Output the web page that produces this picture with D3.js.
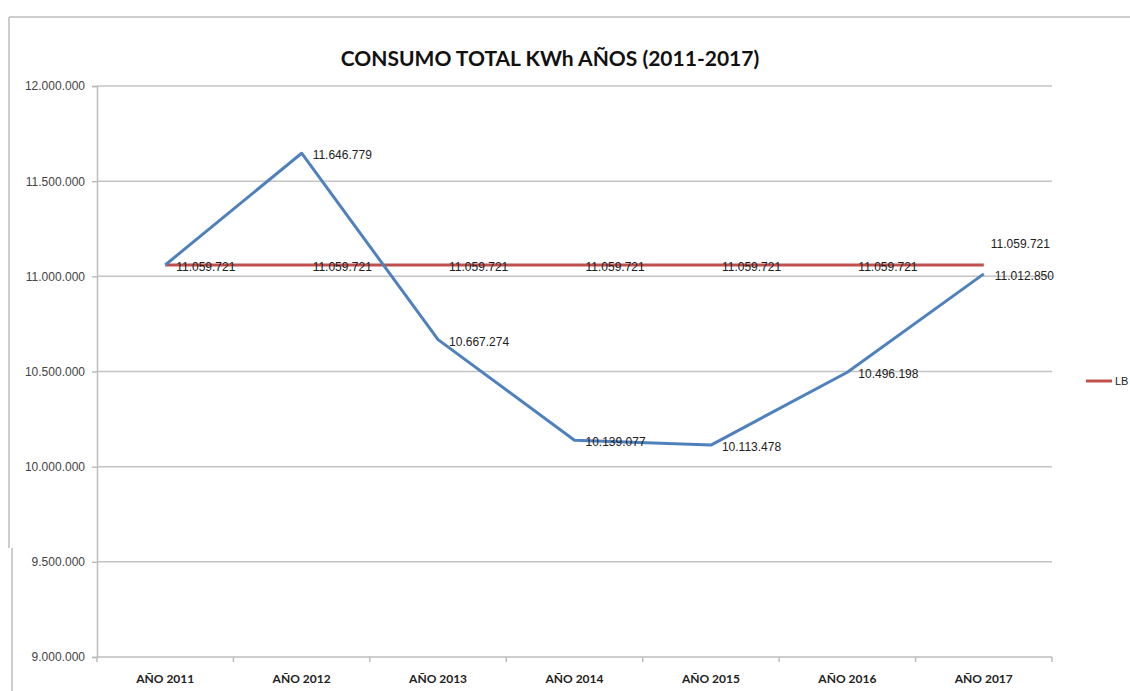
<!DOCTYPE html>
<html>
<head>
<meta charset="utf-8">
<script src="https://cdn.jsdelivr.net/npm/d3@7"></script>
<style>
  body { margin: 0; background: #fff; }
  svg { display: block; }
</style>
</head>
<body>
<svg width="1130" height="691"></svg>
<script>
const years = ['AÑO 2011', 'AÑO 2012', 'AÑO 2013', 'AÑO 2014', 'AÑO 2015', 'AÑO 2016', 'AÑO 2017'];
const consumo = [11059721, 11646779, 10667274, 10139077, 10113478, 10496198, 11012850];
const lineaBase = [11059721, 11059721, 11059721, 11059721, 11059721, 11059721, 11059721];
const yTicks = [9000000, 9500000, 10000000, 10500000, 11000000, 11500000, 12000000];
const titleText = 'CONSUMO TOTAL KWh AÑOS (2011-2017)';
const legendLabel = 'LB';

const svg = d3.select('svg');
const width = Number(svg.attr('width')), height = Number(svg.attr('height'));

const margin = {left: 97, right: 78, top: 86, bottom: 34};
const innerWidth = width - (margin.left + margin.right);
const innerHeight = height - (margin.top + margin.bottom);

// es-ES style thousands separator
const fmt = d => d3.format(',')(d).replace(/,/g, '.');

// outer chart frame (screenshot border)
svg.append('line').attr('x1', 9).attr('x2', width).attr('y1', 17).attr('y2', 17)
    .attr('stroke', '#bdbdbd').attr('stroke-width', 1.5);
svg.append('line').attr('x1', 9).attr('x2', 9).attr('y1', 17).attr('y2', 548)
    .attr('stroke', '#bdbdbd').attr('stroke-width', 1.5);
svg.append('line').attr('x1', 12).attr('x2', 12).attr('y1', 548).attr('y2', height)
    .attr('stroke', '#bdbdbd').attr('stroke-width', 1.5);

svg.append('text')
    .attr('x', 550).attr('y', 66)
    .attr('text-anchor', 'middle')
    .style('font-family', 'Lato, "Open Sans", sans-serif')
    .style('font-weight', 'bold')
    .style('font-size', '21px')
    .attr('fill', '#111')
    .text(titleText);

const xScale = d3.scaleBand()
    .domain(years)
    .range([0, innerWidth]);

const yScale = d3.scaleLinear()
    .domain([9000000, 12000000])
    .range([innerHeight, 0]);

const g = svg.append('g')
    .attr('transform', `translate(${margin.left},${margin.top})`);

// gridlines
g.append('g').selectAll('line').data(yTicks.slice(1))
    .enter().append('line')
        .attr('x1', 0).attr('x2', innerWidth)
        .attr('y1', d => yScale(d)).attr('y2', d => yScale(d))
        .attr('stroke', '#c4c4c4').attr('stroke-width', 1.5);

const yAxis = g.append('g')
    .call(d3.axisLeft(yScale).tickValues(yTicks).tickFormat(fmt).tickSize(5).tickPadding(7));
yAxis.select('.domain').attr('stroke', '#bdbdbd').attr('stroke-width', 1.5);
yAxis.selectAll('.tick line').attr('stroke', '#bdbdbd').attr('stroke-width', 1.5);
yAxis.selectAll('text')
    .style('font-family', '"Liberation Sans", Arial, sans-serif')
    .style('font-size', '12px').attr('fill', '#444');

// x axis with ticks at category boundaries
const xAxisG = g.append('g').attr('transform', `translate(0,${innerHeight})`);
xAxisG.append('line').attr('x1', 0).attr('x2', innerWidth)
    .attr('stroke', '#bdbdbd').attr('stroke-width', 1.5);
xAxisG.selectAll('line.tk').data(years.concat(['end']))
    .enter().append('line').attr('class', 'tk')
        .attr('x1', (d, i) => i < years.length ? xScale(d) : innerWidth)
        .attr('x2', (d, i) => i < years.length ? xScale(d) : innerWidth)
        .attr('y1', 0).attr('y2', 5)
        .attr('stroke', '#bdbdbd').attr('stroke-width', 1.5);
xAxisG.selectAll('text').data(years)
    .enter().append('text')
        .attr('x', d => xScale(d) + xScale.bandwidth() / 2)
        .attr('y', 26)
        .attr('text-anchor', 'middle')
        .style('font-family', 'Lato, sans-serif')
        .style('font-weight', 'bold')
        .style('font-size', '12px')
        .attr('fill', '#222')
        .text(d => d);

const xc = d => xScale(d) + xScale.bandwidth() / 2;

const line = d3.line()
    .x((d, i) => xc(years[i]))
    .y(d => yScale(d));

g.append('path').datum(lineaBase)
    .attr('d', line).attr('fill', 'none')
    .attr('stroke', '#c0504d').attr('stroke-width', 3);

g.append('path').datum(consumo)
    .attr('d', line).attr('fill', 'none')
    .attr('stroke', '#4f81bd').attr('stroke-width', 3).attr('stroke-linejoin', 'round');

const labelStyle = sel => sel
    .style('font-family', '"Liberation Sans", Arial, sans-serif')
    .style('font-size', '12px')
    .attr('fill', '#222');

// data labels, line base
g.append('g').selectAll('text').data(lineaBase)
    .enter().append('text')
        .attr('x', (d, i) => xc(years[i]) + (i === years.length - 1 ? 7 : 11))
        .attr('y', (d, i) => yScale(d) + (i === years.length - 1 ? -17 : 6))
        .call(labelStyle)
        .text(fmt);

// data labels, consumption (first one sits on the base label)
g.append('g').selectAll('text').data(consumo.slice(1))
    .enter().append('text')
        .attr('x', (d, i) => xc(years[i + 1]) + 11)
        .attr('y', d => yScale(d) + 6)
        .call(labelStyle)
        .text(fmt);

// legend
svg.append('line').attr('x1', 1086).attr('x2', 1112).attr('y1', 381).attr('y2', 381)
    .attr('stroke', '#c0504d').attr('stroke-width', 3);
svg.append('text').attr('x', 1115).attr('y', 385)
    .call(labelStyle).style('font-size', '11px')
    .text(legendLabel);
</script>
</body>
</html>
